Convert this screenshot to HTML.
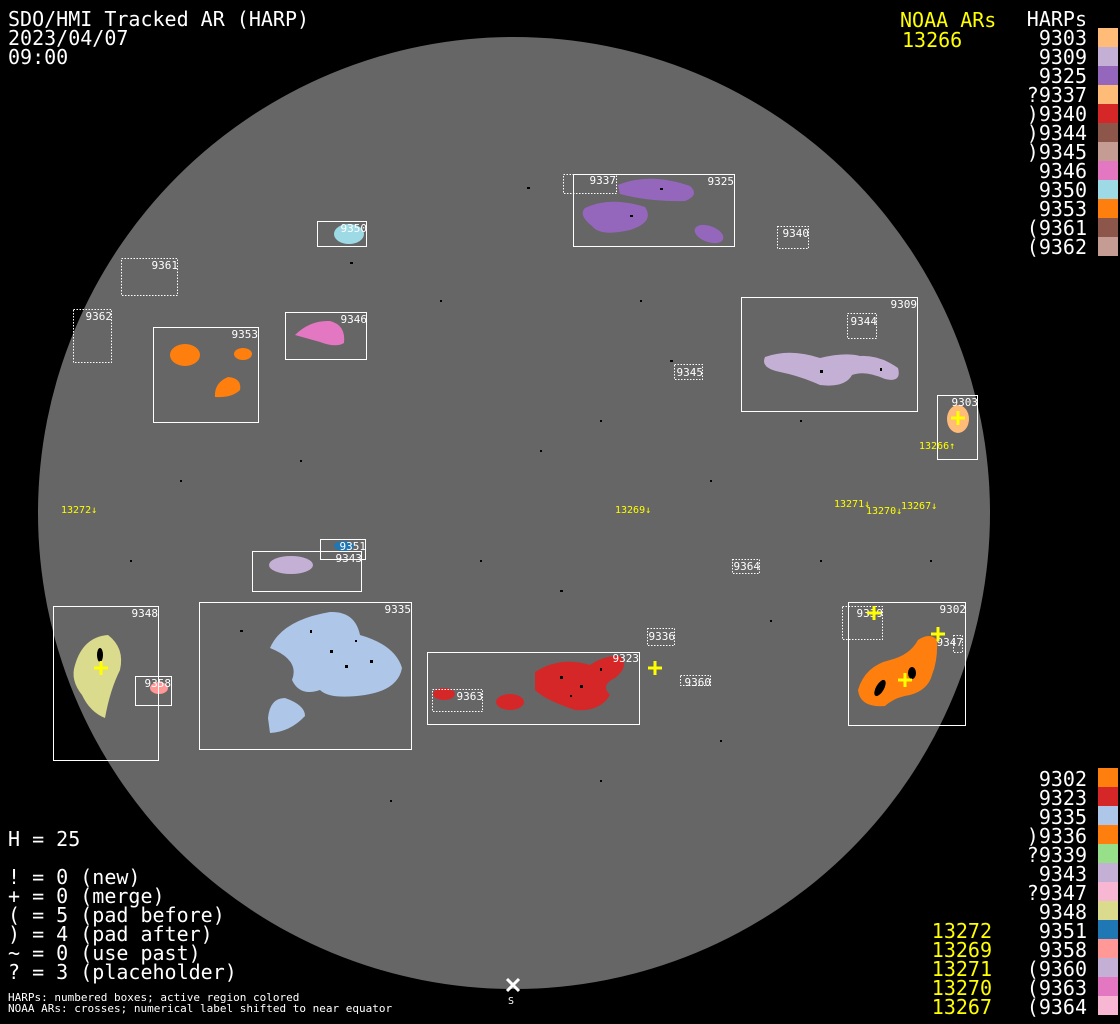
<!DOCTYPE html>
<html><head><meta charset="utf-8"><style>
html,body{margin:0;padding:0;background:#000;}
svg{display:block;}
text{font-family:"DejaVu Sans Mono","Liberation Mono",monospace;}
.t{fill:#fff;font-size:20px;}
.y{fill:#ff0;font-size:20px;}
.l{fill:#fff;font-size:11px;text-anchor:end;}
.n{fill:#ff0;font-size:10px;}
.b{fill:none;stroke:#fff;stroke-width:1;}
.d{fill:none;stroke:#fff;stroke-width:1;stroke-dasharray:1.5 1.5;}
.k{fill:#000;}
</style></head><body>
<svg width="1120" height="1024" viewBox="0 0 1120 1024" xmlns="http://www.w3.org/2000/svg">
<rect width="1120" height="1024" fill="#000"/>
<circle cx="514" cy="513" r="476" fill="#666"/>

<!-- specks -->
<g class="k">
<rect x="527" y="187" width="3" height="2"/><rect x="670" y="360" width="3" height="2"/><rect x="440" y="300" width="2" height="2"/>
<rect x="350" y="262" width="3" height="2"/><rect x="600" y="420" width="2" height="2"/><rect x="710" y="480" width="2" height="2"/>
<rect x="300" y="460" width="2" height="2"/><rect x="480" y="560" width="2" height="2"/><rect x="560" y="590" width="3" height="2"/>
<rect x="770" y="620" width="2" height="2"/><rect x="390" y="800" width="2" height="2"/><rect x="600" y="780" width="2" height="2"/>
<rect x="720" y="740" width="2" height="2"/><rect x="820" y="560" width="2" height="2"/><rect x="240" y="630" width="3" height="2"/>
<rect x="540" y="450" width="2" height="2"/><rect x="180" y="480" width="2" height="2"/><rect x="130" y="560" width="2" height="2"/>
<rect x="930" y="560" width="2" height="2"/><rect x="640" y="300" width="2" height="2"/><rect x="800" y="420" width="2" height="2"/>
</g>

<!-- colored active regions -->
<path d="M618,185 Q650,172 690,186 Q700,195 685,201 Q650,202 620,194 Z" fill="#9467bd"/>
<path d="M585,208 Q610,196 645,207 Q655,222 630,230 Q600,237 592,226 Q578,215 585,208 Z" fill="#9467bd"/>
<ellipse cx="709" cy="234" rx="15" ry="8" transform="rotate(20 709 234)" fill="#9467bd"/>
<ellipse cx="349" cy="234" rx="15" ry="10" fill="#9edae5"/>
<path d="M295,335 Q310,320 330,321 Q346,325 344,343 Q336,348 320,342 Z" fill="#e377c2"/>
<ellipse cx="185" cy="355" rx="15" ry="11" fill="#ff7f0e"/>
<ellipse cx="243" cy="354" rx="9" ry="6" fill="#ff7f0e"/>
<path d="M215,397 Q214,383 228,377 Q242,378 240,390 Q232,398 215,397 Z" fill="#ff7f0e"/>
<path d="M765,357 Q790,348 820,358 Q845,352 860,356 Q880,355 898,368 Q902,383 885,379 Q865,370 852,375 Q845,388 820,385 Q800,376 780,372 Q760,368 765,357 Z" fill="#c5b0d5"/>
<ellipse cx="958" cy="419" rx="11" ry="14" fill="#ffbb78"/>
<ellipse cx="344" cy="546" rx="10" ry="5" fill="#1f77b4"/>
<ellipse cx="291" cy="565" rx="22" ry="9" fill="#c5b0d5"/>
<path d="M75,665 Q83,637 108,635 Q125,648 120,670 Q110,690 105,718 Q90,712 82,695 Q70,680 75,665 Z" fill="#dbdb8d"/>
<ellipse cx="159" cy="688" rx="9" ry="6" fill="#ff9896"/>
<path d="M270,648 Q282,620 330,612 Q355,611 360,635 Q395,645 402,668 Q398,690 365,695 Q330,700 320,690 Q300,697 292,680 Q300,660 270,648 Z" fill="#aec7e8"/>
<path d="M268,718 Q270,698 285,698 Q305,705 305,716 Q290,732 270,733 Z" fill="#aec7e8"/>
<ellipse cx="444" cy="694" rx="11" ry="6" fill="#d62728"/>
<ellipse cx="510" cy="702" rx="14" ry="8" fill="#d62728"/>
<path d="M535,672 Q560,656 590,665 Q605,655 620,656 Q630,666 615,678 Q600,685 610,695 Q600,712 575,710 Q545,700 535,690 Z" fill="#d62728"/>
<path d="M858,690 Q865,666 890,660 Q910,655 918,640 Q930,632 937,640 Q938,660 932,675 Q928,690 910,695 Q895,697 885,706 Q860,708 858,690 Z" fill="#ff7f0e"/>
<g class="k"><ellipse cx="880" cy="688" rx="4" ry="9" transform="rotate(30 880 688)"/><ellipse cx="912" cy="673" rx="4" ry="6"/><ellipse cx="100" cy="655" rx="3" ry="7"/>
<rect x="330" y="650" width="3" height="3"/><rect x="345" y="665" width="3" height="3"/><rect x="370" y="660" width="3" height="3"/><rect x="310" y="630" width="2" height="3"/><rect x="355" y="640" width="2" height="2"/>
<rect x="560" y="676" width="3" height="3"/><rect x="580" y="685" width="3" height="3"/><rect x="600" y="668" width="2" height="3"/><rect x="570" y="695" width="2" height="2"/>
<rect x="630" y="215" width="3" height="2"/><rect x="660" y="188" width="3" height="2"/><rect x="820" y="370" width="3" height="3"/><rect x="880" y="368" width="2" height="3"/></g>

<!-- boxes -->
<rect class="b" x="573.5" y="174.5" width="161" height="72"/>
<rect class="d" x="563.5" y="174.5" width="53" height="19"/>
<rect class="d" x="777.5" y="226.5" width="31" height="22"/>
<rect class="b" x="317.5" y="221.5" width="49" height="25"/>
<rect class="d" x="121.5" y="258.5" width="56" height="37"/>
<rect class="d" x="73.5" y="309.5" width="38" height="53"/>
<rect class="b" x="153.5" y="327.5" width="105" height="95"/>
<rect class="b" x="285.5" y="312.5" width="81" height="47"/>
<rect class="b" x="741.5" y="297.5" width="176" height="114"/>
<rect class="d" x="847.5" y="313.5" width="29" height="25"/>
<rect class="d" x="674.5" y="364.5" width="28" height="15"/>
<rect class="b" x="937.5" y="395.5" width="40" height="64"/>
<rect class="b" x="320.5" y="539.5" width="45" height="20"/>
<rect class="b" x="252.5" y="551.5" width="109" height="40"/>
<rect class="d" x="732.5" y="559.5" width="27" height="14"/>
<rect class="b" x="53.5" y="606.5" width="105" height="154"/>
<rect class="b" x="135.5" y="676.5" width="36" height="29"/>
<rect class="b" x="199.5" y="602.5" width="212" height="147"/>
<rect class="d" x="647.5" y="628.5" width="27" height="17"/>
<rect class="b" x="427.5" y="652.5" width="212" height="72"/>
<rect class="d" x="432.5" y="689.5" width="50" height="22"/>
<rect class="d" x="680.5" y="675.5" width="30" height="10"/>
<rect class="b" x="848.5" y="602.5" width="117" height="123"/>
<rect class="d" x="842.5" y="606.5" width="40" height="33"/>
<rect class="d" x="953.5" y="635.5" width="9" height="17"/>

<!-- box labels -->
<text class="l" x="616" y="184">9337</text>
<text class="l" x="734" y="185">9325</text>
<text class="l" x="809" y="237">9340</text>
<text class="l" x="367" y="232">9350</text>
<text class="l" x="178" y="269">9361</text>
<text class="l" x="112" y="320">9362</text>
<text class="l" x="258" y="338">9353</text>
<text class="l" x="367" y="323">9346</text>
<text class="l" x="917" y="308">9309</text>
<text class="l" x="877" y="325">9344</text>
<text class="l" x="703" y="376">9345</text>
<text class="l" x="978" y="406">9303</text>
<text class="l" x="366" y="550">9351</text>
<text class="l" x="362" y="562">9343</text>
<text class="l" x="760" y="570">9364</text>
<text class="l" x="158" y="617">9348</text>
<text class="l" x="171" y="687">9358</text>
<text class="l" x="411" y="613">9335</text>
<text class="l" x="675" y="640">9336</text>
<text class="l" x="639" y="662">9323</text>
<text class="l" x="483" y="700">9363</text>
<text class="l" x="711" y="686">9360</text>
<text class="l" x="966" y="613">9302</text>
<text class="l" x="883" y="617">9339</text>
<text class="l" x="963" y="646">9347</text>

<!-- NOAA labels -->
<text class="n" x="919" y="449">13266↑</text>
<text class="n" x="61" y="513">13272↓</text>
<text class="n" x="615" y="513">13269↓</text>
<text class="n" x="834" y="507">13271↓</text>
<text class="n" x="866" y="514">13270↓</text>
<text class="n" x="901" y="509">13267↓</text>

<!-- crosses -->
<g stroke="#ff0" stroke-width="3">
<path d="M951,418h14M958,411v14"/>
<path d="M648,668h14M655,661v14"/>
<path d="M867,613h14M874,606v14"/>
<path d="M931,634h14M938,627v14"/>
<path d="M898,680h14M905,673v14"/>
<path d="M94,668h14M101,661v14"/>
</g>

<!-- S marker -->
<path d="M507,979l12,12M519,979l-12,12" stroke="#fff" stroke-width="3"/>
<text x="508" y="1004" fill="#fff" font-size="10">S</text>

<!-- header -->
<text class="t" x="8" y="26">SDO/HMI Tracked AR (HARP)</text>
<text class="t" x="8" y="45">2023/04/07</text>
<text class="t" x="8" y="64">09:00</text>
<text class="y" x="900" y="27">NOAA ARs</text>
<text class="y" x="902" y="47">13266</text>

<!-- top legend -->
<g class="t" text-anchor="end">
<text x="1087" y="26">HARPs</text>
<text x="1087" y="45">9303</text><text x="1087" y="64">9309</text><text x="1087" y="83">9325</text>
<text x="1087" y="102">?9337</text><text x="1087" y="121">)9340</text><text x="1087" y="140">)9344</text>
<text x="1087" y="159">)9345</text><text x="1087" y="178">9346</text><text x="1087" y="197">9350</text>
<text x="1087" y="216">9353</text><text x="1087" y="235">(9361</text><text x="1087" y="254">(9362</text>
</g>
<rect x="1098" y="28" width="20" height="19" fill="#ffbb78"/>
<rect x="1098" y="47" width="20" height="19" fill="#c5b0d5"/>
<rect x="1098" y="66" width="20" height="19" fill="#9467bd"/>
<rect x="1098" y="85" width="20" height="19" fill="#ffbb78"/>
<rect x="1098" y="104" width="20" height="19" fill="#d62728"/>
<rect x="1098" y="123" width="20" height="19" fill="#8c564b"/>
<rect x="1098" y="142" width="20" height="19" fill="#c49c94"/>
<rect x="1098" y="161" width="20" height="19" fill="#e377c2"/>
<rect x="1098" y="180" width="20" height="19" fill="#9edae5"/>
<rect x="1098" y="199" width="20" height="19" fill="#ff7f0e"/>
<rect x="1098" y="218" width="20" height="19" fill="#8c564b"/>
<rect x="1098" y="237" width="20" height="19" fill="#c49c94"/>

<!-- bottom legend -->
<g class="t" text-anchor="end">
<text x="1087" y="786">9302</text><text x="1087" y="805">9323</text><text x="1087" y="824">9335</text>
<text x="1087" y="843">)9336</text><text x="1087" y="862">?9339</text><text x="1087" y="881">9343</text>
<text x="1087" y="900">?9347</text><text x="1087" y="919">9348</text><text x="1087" y="938">9351</text>
<text x="1087" y="957">9358</text><text x="1087" y="976">(9360</text><text x="1087" y="995">(9363</text>
<text x="1087" y="1014">(9364</text>
</g>
<g class="y" text-anchor="end">
<text x="992" y="938">13272</text><text x="992" y="957">13269</text><text x="992" y="976">13271</text>
<text x="992" y="995">13270</text><text x="992" y="1014">13267</text>
</g>
<rect x="1098" y="768" width="20" height="19" fill="#ff7f0e"/>
<rect x="1098" y="787" width="20" height="19" fill="#d62728"/>
<rect x="1098" y="806" width="20" height="19" fill="#aec7e8"/>
<rect x="1098" y="825" width="20" height="19" fill="#ff7f0e"/>
<rect x="1098" y="844" width="20" height="19" fill="#98df8a"/>
<rect x="1098" y="863" width="20" height="19" fill="#c5b0d5"/>
<rect x="1098" y="882" width="20" height="19" fill="#f7b6d2"/>
<rect x="1098" y="901" width="20" height="19" fill="#dbdb8d"/>
<rect x="1098" y="920" width="20" height="19" fill="#1f77b4"/>
<rect x="1098" y="939" width="20" height="19" fill="#ff9896"/>
<rect x="1098" y="958" width="20" height="19" fill="#c5b0d5"/>
<rect x="1098" y="977" width="20" height="19" fill="#e377c2"/>
<rect x="1098" y="996" width="20" height="19" fill="#f7b6d2"/>

<!-- bottom-left stats -->
<g class="t">
<text x="8" y="846">H = 25</text>
<text x="8" y="884">! = 0 (new)</text>
<text x="8" y="903">+ = 0 (merge)</text>
<text x="8" y="922">( = 5 (pad before)</text>
<text x="8" y="941">) = 4 (pad after)</text>
<text x="8" y="960">~ = 0 (use past)</text>
<text x="8" y="979">? = 3 (placeholder)</text>
</g>
<text x="8" y="1001" fill="#fff" font-size="11">HARPs: numbered boxes; active region colored</text>
<text x="8" y="1012" fill="#fff" font-size="11">NOAA ARs: crosses; numerical label shifted to near equator</text>
</svg>
</body></html>
